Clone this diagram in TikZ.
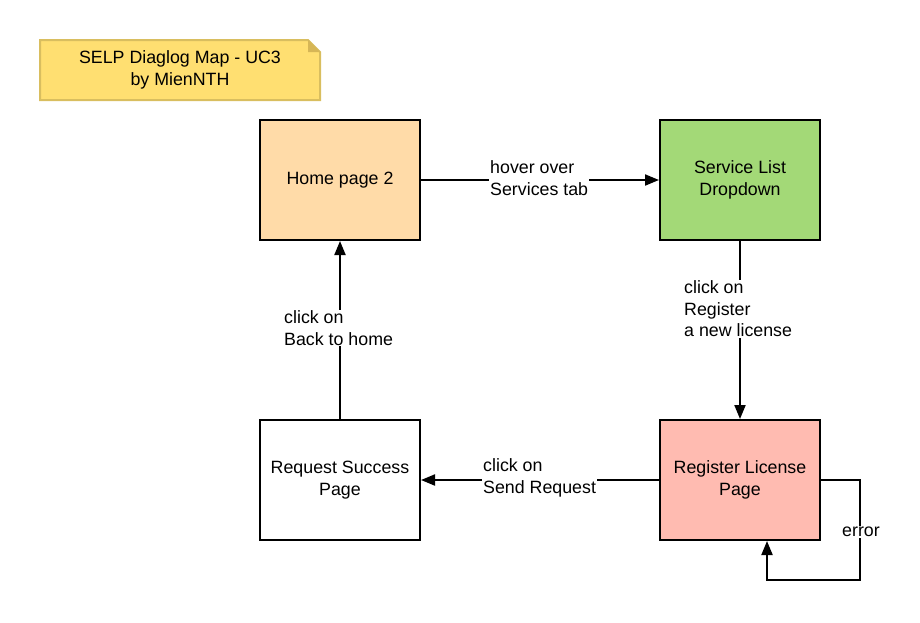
\documentclass[tikz,border=0pt]{standalone}
\usepackage{fontspec}
\setmainfont{Liberation Sans}
\usetikzlibrary{arrows.meta}
\definecolor{notefill}{HTML}{FFDF71}
\definecolor{noteline}{HTML}{D9BE5F}
\definecolor{notefold}{HTML}{D6B656}
\definecolor{homefill}{HTML}{FFDBA8}
\definecolor{greenfill}{HTML}{A3D977}
\definecolor{redfill}{HTML}{FFBBB1}
\tikzset{
  x=1pt, y=-1pt,
  every node/.style={font=\fontsize{17.8pt}{21.5pt}\selectfont},
  pagebox/.style={draw=black, line width=2pt, minimum width=160pt, minimum height=120pt, align=center, inner sep=0pt},
  conn/.style={line width=2pt, -{Triangle[length=14pt,width=11pt]}},
  lbl/.style={fill=white, align=left, inner sep=1pt},
}
\begin{document}
\begin{tikzpicture}
\useasboundingbox (0,0) rectangle (920,622);
% note
\fill[notefill] (40,40) -- (308,40) -- (320,52) -- (320,100) -- (40,100) -- cycle;
\draw[noteline, line width=2pt] (40,40) -- (308,40) -- (320,52) -- (320,100) -- (40,100) -- cycle;
\fill[notefold] (308,40) -- (320,52) -- (308,52) -- cycle;
\node[align=center] (note) at (180,70) {SELP Diaglog Map - UC3\\by MienNTH};
% boxes
\node[pagebox, fill=homefill] (home) at (340,180) {Home page 2};
\node[pagebox, fill=greenfill] (svc) at (740,180) {Service List\\Dropdown};
\node[pagebox, fill=white] (succ) at (340,480) {Request Success\\Page};
\node[pagebox, fill=redfill] (reg) at (740,480) {Register License\\Page};
% connectors
\draw[conn] (home.east) -- (svc.west);
\node[lbl, anchor=west] (l1) at (489,178) {hover over\\Services tab};
\draw[conn] (svc.south) -- (reg.north);
\node[lbl, anchor=west] (l2) at (683,309) {click on\\Register\\a new license};
\draw[conn] (reg.west) -- (succ.east);
\node[lbl, anchor=west] (l3) at (482,478) {click on\\Send Request};
\draw[conn] (succ.north) -- (home.south);
\node[lbl, anchor=west] (l4) at (283,328) {click on\\Back to home};
\coordinate (e1) at (860,480);
\coordinate (e2) at (860,580);
\coordinate (e3) at (767,580);
\draw[conn] (reg.east) -- (e1) -- (e2) -- (e3) -- (reg.south -| e3);
\node[lbl, anchor=center] (l5) at (861,532) {error};
\end{tikzpicture}
\end{document}
